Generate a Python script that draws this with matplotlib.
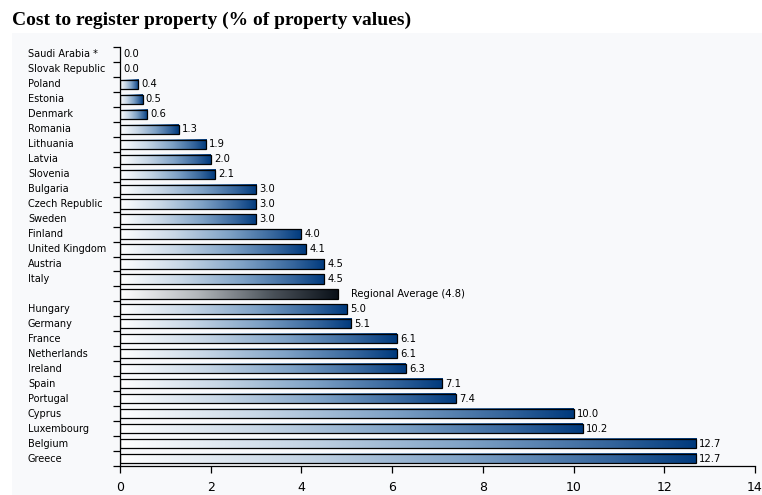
import numpy as np
import matplotlib
matplotlib.use("Agg")
import matplotlib.pyplot as plt
from matplotlib.colors import LinearSegmentedColormap
import matplotlib.transforms as mtransforms
from matplotlib.patches import Rectangle

categories = ["Saudi Arabia *", "Slovak Republic", "Poland", "Estonia", "Denmark",
              "Romania", "Lithuania", "Latvia", "Slovenia", "Bulgaria",
              "Czech Republic", "Sweden", "Finland", "United Kingdom", "Austria",
              "Italy", "", "Hungary", "Germany", "France", "Netherlands", "Ireland",
              "Spain", "Portugal", "Cyprus", "Luxembourg", "Belgium", "Greece"]
values = [0.0, 0.0, 0.4, 0.5, 0.6, 1.3, 1.9, 2.0, 2.1, 3.0, 3.0, 3.0, 4.0, 4.1,
          4.5, 4.5, 4.8, 5.0, 5.1, 6.1, 6.1, 6.3, 7.1, 7.4, 10.0, 10.2, 12.7, 12.7]
value_labels = ["0.0", "0.0", "0.4", "0.5", "0.6", "1.3", "1.9", "2.0", "2.1",
                "3.0", "3.0", "3.0", "4.0", "4.1", "4.5", "4.5",
                "Regional Average (4.8)", "5.0", "5.1", "6.1", "6.1", "6.3",
                "7.1", "7.4", "10.0", "10.2", "12.7", "12.7"]
average_index = 16
x_ticks = [0, 2, 4, 6, 8, 10, 12, 14]

W, H = 762, 495
fig = plt.figure(figsize=(W / 100, H / 100), dpi=100)
fig.patch.set_facecolor("white")

# light panel background
bg = fig.add_axes([12 / W, 0, 1 - 12 / W, 1 - 33 / H], zorder=-5)
bg.set_facecolor("#f8f9fb")
bg.set_axis_off()
bg.add_patch(Rectangle((0, 0), 1, 1, transform=bg.transAxes,
                       facecolor="#f8f9fb", edgecolor="none"))

fig.text(12 / W, 1 - 20 / H, "Cost to register property (% of property values)",
         fontfamily="Liberation Serif", fontweight="bold", fontsize=14,
         ha="left", va="center", color="black")

ax = fig.add_axes([120 / W, 1 - 466 / H, (755 - 120) / W, (466 - 47) / H], zorder=1)
ax.set_facecolor("none")

blue_cmap = LinearSegmentedColormap.from_list(
    "b", [(0.0, "#ffffff"), (0.3, "#c8d7e6"), (0.6, "#7fa2c6"),
          (0.85, "#35659c"), (1.0, "#003a7d")])
black_cmap = LinearSegmentedColormap.from_list(
    "k", [(0.0, "#ffffff"), (0.35, "#b4b8bc"), (0.7, "#4a525a"), (1.0, "#0a1018")])
grad = np.linspace(0, 1, 256).reshape(1, -1)

n = len(categories)
ypos = np.arange(n)
bar_h = 0.62
for i, (y, v) in enumerate(zip(ypos, values)):
    cmap = black_cmap if i == average_index else blue_cmap
    if v > 0:
        ax.imshow(grad, cmap=cmap, aspect="auto", interpolation="bilinear",
                  extent=[0, v, y + bar_h / 2, y - bar_h / 2], zorder=2)
        ax.add_patch(Rectangle((0, y - bar_h / 2), v, bar_h, facecolor="none",
                               edgecolor="black", linewidth=0.9, zorder=3))
    gap = 0.29 if i == average_index else 0.07
    ax.text(v + gap, y, value_labels[i], ha="left", va="center", fontsize=7.2,
            color="black", zorder=4)

trans = mtransforms.blended_transform_factory(fig.transFigure, ax.transData)
for y, c in zip(ypos, categories):
    ax.text(28 / W, y, c, transform=trans, ha="left", va="center", fontsize=7,
            color="black")

ax.set_xlim(0, 14)
ax.set_ylim(n - 0.5, -0.5)
ax.set_xticks(x_ticks)
ax.set_xticklabels([str(t) for t in x_ticks], fontsize=9)
ax.set_yticks(np.arange(n + 1) - 0.5)
ax.set_yticklabels([])
ax.tick_params(axis="both", direction="out", length=5, width=0.9, color="black")
ax.tick_params(axis="x", pad=6)
for s in ["top", "right"]:
    ax.spines[s].set_visible(False)
for s in ["left", "bottom"]:
    ax.spines[s].set_linewidth(0.9)

fig.savefig("out.png", dpi=100, facecolor="white")
